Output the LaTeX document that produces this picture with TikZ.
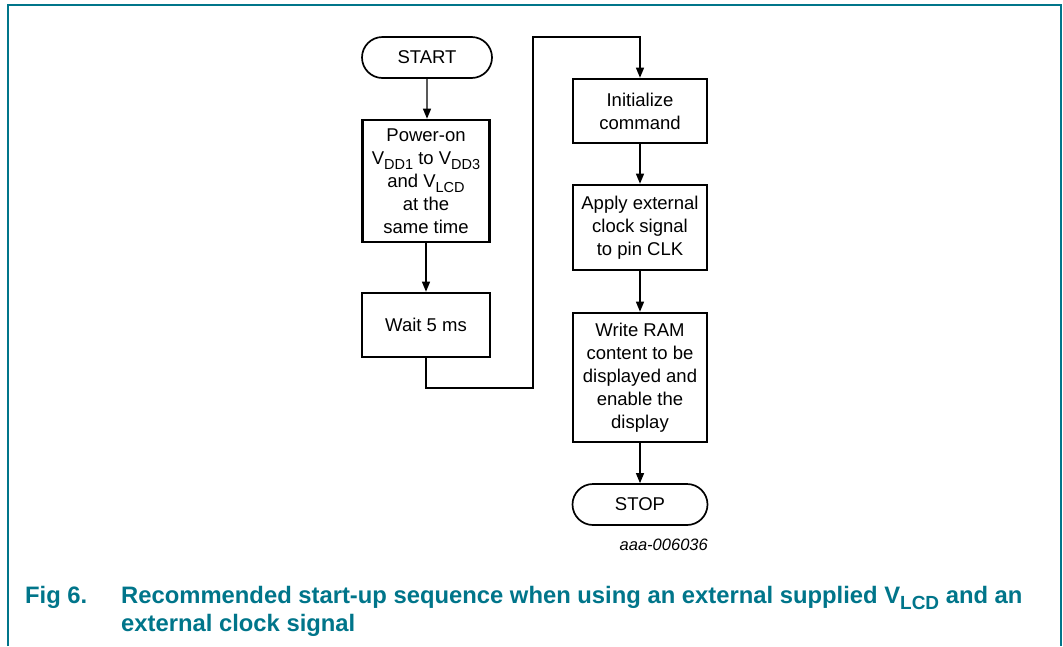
\documentclass[tikz,border=0pt]{standalone}
\usepackage{fontspec}
\setmainfont{Liberation Sans}
\usetikzlibrary{arrows.meta,shapes.misc}
\definecolor{nxpteal}{RGB}{0,117,138}
\newcommand\sbs[1]{\raisebox{-0.28em}{\fontsize{14.5}{14.5}\selectfont #1}}
\newcommand\capsb[1]{\raisebox{-0.28em}{\fontsize{19}{19}\selectfont #1}}
\begin{document}
\begin{tikzpicture}[x=1pt,y=-1pt,
  proc/.style={draw, line width=2.6pt, inner sep=0pt, align=center,
    font=\fontsize{18.5}{23}\selectfont},
  term/.style={draw, rounded rectangle, line width=1.7pt, inner sep=0pt,
    font=\fontsize{18.5}{20}\selectfont},
  arr/.style={line width=1.2pt, -{Triangle[length=10pt,width=8pt]}},
  captxt/.style={anchor=base west, inner sep=0pt, text=nxpteal,
    font=\bfseries\fontsize{23.8}{28}\selectfont}]
\useasboundingbox (0,0) rectangle (1063,646);
% frame
\draw[nxpteal, line width=2pt] (7.5,646) -- (7.5,4.5) -- (1061.3,4.5) -- (1061.3,646);
% left column
\node[term, minimum width=130pt, minimum height=41pt] (start) at (427,57.5) {START};
\node[proc, minimum width=127pt, minimum height=122pt] (power) at (426,181)
  {Power-on\\V\sbs{DD1} to V\sbs{DD3}\\and V\sbs{LCD}\\at the\\same time};
\node[proc, minimum width=128pt, minimum height=64pt] (wait) at (426,325) {Wait 5 ms};
% right column
\node[proc, minimum width=134pt, minimum height=64pt] (init) at (640,111) {Initialize\\command};
\node[proc, minimum width=134pt, minimum height=85pt] (clk) at (640,227.5)
  {Apply external\\clock signal\\to pin CLK};
\node[proc, minimum width=134pt, minimum height=129pt] (ram) at (640,377.5)
  {Write RAM\\content to be\\displayed and\\enable the\\display};
\node[term, minimum width=135pt, minimum height=41pt] (stop) at (640,504.5) {STOP};
\node[anchor=base east, inner sep=0pt, font=\itshape\fontsize{16.5}{16.5}\selectfont] (code) at (708,550) {aaa-006036};
% connectors
\coordinate (c1) at (426,388);
\coordinate (c2) at (533,388);
\coordinate (c3) at (533,37);
\coordinate (c4) at (640,37);
\draw[arr] (start) -- (start |- power.north);
\draw[arr] (power) -- (wait);
\draw[arr] (wait.south) -- (c1) -- (c2) -- (c3) -- (c4) -- (init.north);
\draw[arr] (init) -- (clk);
\draw[arr] (clk) -- (ram);
\draw[arr] (ram) -- (stop);
% caption
\node[captxt] (fig) at (25,603) {Fig 6.};
\node[captxt] (cap1) at (121,603) {Recommended start-up sequence when using an external supplied V\capsb{LCD} and an};
\node[captxt] (cap2) at (121,631) {external clock signal};
\end{tikzpicture}
\end{document}
